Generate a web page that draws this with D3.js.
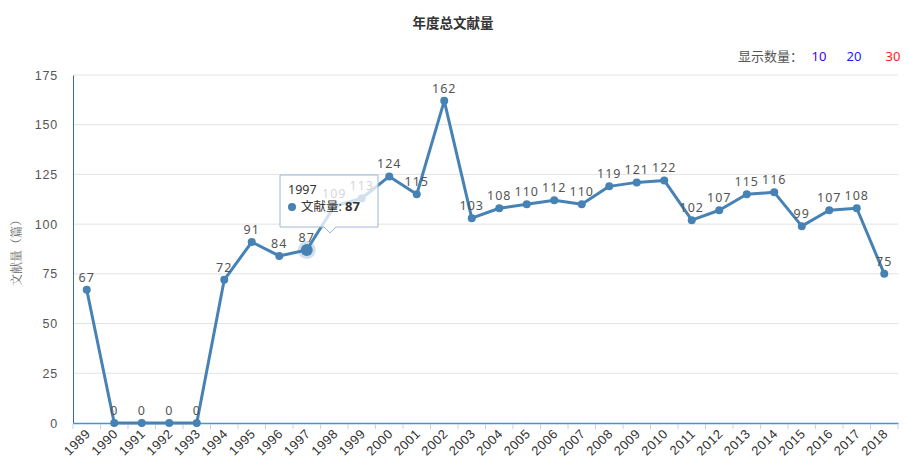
<!DOCTYPE html>
<html><head><meta charset="utf-8">
<script src="https://cdn.jsdelivr.net/npm/d3@7"></script>
<style>
body{margin:0;background:#fff;}
svg{font-family:"Noto Sans","Noto Sans CJK SC",sans-serif;}
</style></head>
<body>
<svg id="c" width="908" height="476"></svg>
<script>
const years = ["1989","1990","1991","1992","1993","1994","1995","1996","1997","1998","1999","2000","2001","2002","2003","2004","2005","2006","2007","2008","2009","2010","2011","2012","2013","2014","2015","2016","2017","2018"];
const counts = [67,0,0,0,0,72,91,84,87,109,113,124,115,162,103,108,110,112,110,119,121,122,102,107,115,116,99,107,108,75];
const yTicks = [0,25,50,75,100,125,150,175];
const legendItems = ["10","20","30"];
const legendColors = ["#3a00ff","#1a1aff","#ff1a1a"];
const hoverIndex = 8;

const svg = d3.select("#c");
const m = {l:73, r:898, t:75, b:423};
const x = d3.scaleBand().domain(years).range([m.l, m.r]);
const y = d3.scaleLinear().domain([0,175]).range([m.b, m.t]);
const cx = d => x(d) + x.bandwidth()/2;

// title
svg.append("text").attr("x",453).attr("y",28).attr("text-anchor","middle")
  .attr("font-size",13.5).attr("font-weight","bold").attr("fill","#333").text("年度总文献量");

// legend
svg.append("text").attr("x",738).attr("y",61).attr("font-size",13).attr("fill","#555").text("显示数量：");
const lx = [819,854,893];
legendItems.forEach((t,i)=>{
  svg.append("text").attr("x",lx[i]).attr("y",61).attr("text-anchor","middle")
    .attr("font-size",13).attr("fill",legendColors[i]).text(t);
});

// grid
svg.append("g").selectAll("line").data(yTicks.slice(1)).join("line")
  .attr("x1",m.l).attr("x2",m.r).attr("y1",d=>y(d)).attr("y2",d=>y(d))
  .attr("stroke","#e3e3e3").attr("stroke-width",1);

// y axis
const ya = svg.append("g").attr("transform",`translate(${m.l},0)`)
  .call(d3.axisLeft(y).tickValues(yTicks).tickSize(0).tickPadding(15));
ya.select(".domain").attr("stroke","#2f6f9f").attr("stroke-width",1);
ya.selectAll("text").attr("font-size",12.5).attr("fill","#555").attr("letter-spacing","0.8");

svg.append("text").attr("transform","translate(21,250) rotate(-90)")
  .attr("text-anchor","middle").attr("font-size",12).attr("fill","#666")
  .attr("font-family","'Noto Serif CJK SC','Noto Sans CJK SC',serif").text("文献量（篇）");

// x axis
const xa = svg.append("g").attr("transform",`translate(0,${m.b})`)
  .call(d3.axisBottom(x).tickSize(0).tickPadding(6));
xa.select(".domain").attr("stroke","#3a9ad9").attr("stroke-width",1.5);
xa.selectAll(".tick text").attr("font-size",13).attr("fill","#333")
  .attr("letter-spacing","0.5")
  .attr("text-anchor","end").attr("dy","0.35em")
  .attr("transform","translate(-3,4) rotate(-45)");
const bounds = years.map(d=>x(d)).concat([m.r]);
svg.append("g").selectAll("line").data(bounds).join("line")
  .attr("x1",d=>d).attr("x2",d=>d).attr("y1",m.b+1).attr("y2",m.b+6)
  .attr("stroke","#ccd").attr("stroke-width",1);

// line
const pts = years.map((yr,i)=>({yr, v:counts[i]}));
svg.append("path").datum(pts)
  .attr("d", d3.line().x(d=>cx(d.yr)).y(d=>y(d.v)))
  .attr("fill","none").attr("stroke","#4682b4").attr("stroke-width",3).attr("stroke-linejoin","round");

// hover halo
svg.append("circle").attr("cx",cx(years[hoverIndex])).attr("cy",y(counts[hoverIndex]))
  .attr("r",9).attr("fill","#4682b4").attr("fill-opacity",0.25);

svg.append("g").selectAll("circle").data(pts).join("circle")
  .attr("cx",d=>cx(d.yr)).attr("cy",d=>y(d.v))
  .attr("r",(d,i)=> i===hoverIndex?6:4).attr("fill","#4682b4");

svg.append("g").selectAll("text").data(pts).join("text")
  .attr("x",d=>cx(d.yr)).attr("y",d=>y(d.v)-8)
  .attr("text-anchor","middle").attr("font-size",12.5).attr("fill","#555")
  .attr("letter-spacing","1")
  .text(d=>d.v);

// tooltip
const tx = 280, ty = 175, tw = 98, th = 52;
const ax = 330;
const tg = svg.append("g");
tg.append("path")
  .attr("d",`M${tx},${ty} H${tx+tw} V${ty+th} H${ax+6} L${ax},${ty+th+6} L${ax-6},${ty+th} H${tx} Z`)
  .attr("fill","#fff").attr("fill-opacity",0.75).attr("stroke","#9ab8d0").attr("stroke-width",1);
tg.append("text").attr("x",tx+8).attr("y",ty+19).attr("font-size",12.5).attr("fill","#333").text(years[hoverIndex]);
tg.append("circle").attr("cx",tx+12).attr("cy",ty+32).attr("r",4).attr("fill","#4682b4");
const t2 = tg.append("text").attr("x",tx+21).attr("y",ty+36).attr("font-size",12.5).attr("fill","#333");
t2.append("tspan").text("文献量: ");
t2.append("tspan").attr("font-weight","bold").attr("font-size",13).text(counts[hoverIndex]);
</script>
</body></html>
